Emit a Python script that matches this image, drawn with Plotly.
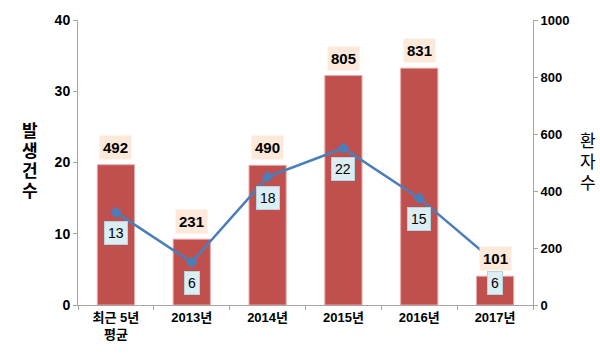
import plotly.graph_objects as go

categories = ["최근 5년<br>평균", "2013년", "2014년", "2015년", "2016년", "2017년"]
patients = [492, 231, 490, 805, 831, 101]
outbreaks = [13, 6, 18, 22, 15, 6]

FONT = "Liberation Sans, Noto Sans CJK KR, sans-serif"

W, H = 600, 354
L, R, T, B = 78, 67, 17, 44
pw, ph = W - L - R, H - T - B

fig = go.Figure()
# bars on the (right-side) base axis so the line axis overlays on top
fig.add_trace(go.Bar(
    x=categories, y=patients, yaxis="y", width=0.49,
    marker=dict(color="#C0504D", line=dict(color="#E6A8A6", width=1)),
    hoverinfo="skip",
))
fig.add_trace(go.Scatter(
    x=categories, y=outbreaks, yaxis="y2", mode="lines+markers",
    line=dict(color="#4A7EBB", width=2.5),
    marker=dict(symbol="diamond", size=9, color="#4A7EBB"),
    hoverinfo="skip",
))

annotations = []
for c, v in zip(categories, patients):
    annotations.append(dict(
        x=c, y=v, xref="x", yref="y", text=f"<b>{v}</b>", showarrow=False,
        yanchor="bottom", yshift=5, bgcolor="#FDE9D9", borderpad=3,
        font=dict(family=FONT, size=15, color="#000000"),
    ))
for c, v in zip(categories, outbreaks):
    annotations.append(dict(
        x=c, y=v, xref="x", yref="y2", text=f"{v}", showarrow=False,
        yanchor="top", yshift=-9, bgcolor="#DBEEF4", bordercolor="#B7D3DF",
        borderwidth=1, borderpad=3,
        font=dict(family=FONT, size=14, color="#000000"),
    ))

left_title = ["발", "생", "건", "수"]
for i, ch in enumerate(left_title):
    annotations.append(dict(
        x=(30 - L) / pw, y=(H - B - (132 + 20.5 * i)) / ph,
        xref="paper", yref="paper", text=f"<b>{ch}</b>", showarrow=False,
        xanchor="center", yanchor="middle",
        font=dict(family=FONT, size=17, color="#000000"),
    ))
right_title = ["환", "자", "수"]
for i, ch in enumerate(right_title):
    annotations.append(dict(
        x=(588 - L) / pw, y=(H - B - (142 + 21.5 * i)) / ph,
        xref="paper", yref="paper", text=ch, showarrow=False,
        xanchor="center", yanchor="middle",
        font=dict(family=FONT, size=17, color="#000000"),
    ))

fig.update_layout(
    width=W, height=H, margin=dict(l=L, r=R, t=T, b=B),
    paper_bgcolor="white", plot_bgcolor="white", showlegend=False,
    annotations=annotations,
    xaxis=dict(
        type="category", showline=True, linecolor="#A6A6A6", linewidth=1,
        ticks="outside", tickson="boundaries", ticklen=4, tickcolor="#A6A6A6",
        tickfont=dict(family=FONT, size=13, color="#000000", weight="bold"),
        showgrid=False,
    ),
    yaxis=dict(
        range=[0, 1000], dtick=200, side="right",
        showline=True, linecolor="#A6A6A6", ticks="outside", ticklen=4,
        tickcolor="#A6A6A6", showgrid=False, zeroline=False,
        tickfont=dict(family=FONT, size=13, color="#000000", weight="bold"),
    ),
    yaxis2=dict(
        range=[0, 40], dtick=10, overlaying="y", side="left",
        showline=True, linecolor="#A6A6A6",
        ticks="outside", ticklen=4, tickcolor="#A6A6A6", showgrid=False,
        zeroline=False,
        tickfont=dict(family=FONT, size=14, color="#000000", weight="bold"),
    ),
)

fig.write_html("out.html")
